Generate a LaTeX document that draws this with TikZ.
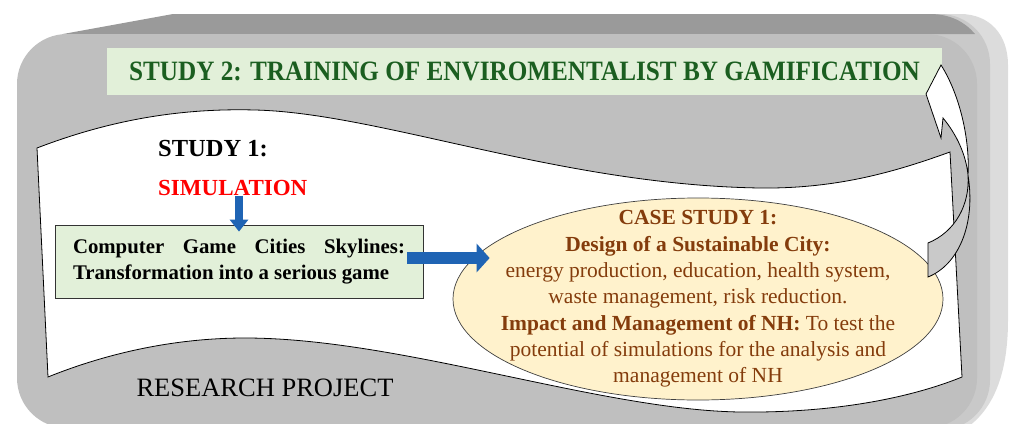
\documentclass[tikz,border=0pt]{standalone}
\usepackage{fontspec}
\setmainfont{Liberation Serif}
\newfontfamily\narrowserif[FakeStretch=0.9]{Liberation Serif}
\usetikzlibrary{arrows.meta,shapes.geometric}

\definecolor{topface}{HTML}{9A9A9A}
\definecolor{frontface}{HTML}{BFBFBF}
\definecolor{midface}{HTML}{C9C9C9}
\definecolor{sideface}{HTML}{DCDCDC}
\definecolor{boxgreen}{HTML}{E2F0D9}
\definecolor{titlegreen}{HTML}{1B5E20}
\definecolor{casefill}{HTML}{FFF2CC}
\definecolor{casetext}{HTML}{843C0C}
\definecolor{arrowblue}{HTML}{1F64B4}

\begin{document}
\begin{tikzpicture}[x=1pt, y=-1pt,
  titlebox/.style={fill=boxgreen, minimum width=835pt, minimum height=47pt, inner sep=0pt, text=titlegreen, font=\narrowserif\bfseries\fontsize{28}{30}\selectfont},
  gamebox/.style={draw=black!80, line width=0.8pt, fill=boxgreen, text width=332pt, inner xsep=18pt, minimum height=73pt, align=justify, font=\bfseries\fontsize{20.8}{26}\selectfont},
  caseshape/.style={ellipse, draw=black!75, line width=0.7pt, fill=casefill, minimum width=490pt, minimum height=202pt, inner sep=0pt},
  caselines/.style={inner sep=0pt, align=center, text=casetext, font=\fontsize{21.5}{26.3}\selectfont},
  heading/.style={inner sep=0pt, anchor=base west, font=\bfseries\fontsize{24.5}{28}\selectfont},
  outline/.style={draw=black, line width=0.8pt}
]
\useasboundingbox (0,0) rectangle (1009,423);
\clip (0,0) rectangle (1009,423);

% bevelled frame of the project
\fill[sideface] (300,14) -- (960,14) .. controls (990,14) and (1008,35) .. (1008,65) -- (1008,320) .. controls (1008,380) and (990,415) .. (960,432) -- (300,432) -- cycle;
\fill[midface, rounded corners=50pt] (300,14) rectangle (990,430);
\fill[topface] (63,34) -- (173,14) -- (930,14) .. controls (950,14) and (965,22) .. (975,34) -- cycle;
\fill[frontface, rounded corners=50pt] (17,34) rectangle (977,428);

% wave banner of study 1
\filldraw[fill=white, outline] (37,148) .. controls (110,120) and (180,108) .. (255,110)
  .. controls (380,113) and (560,185) .. (760,188)
  .. controls (840,189) and (900,170) .. (950,152) -- (962,377)
  .. controls (900,402) and (820,413) .. (740,412)
  .. controls (600,410) and (400,338) .. (245,338)
  .. controls (160,338) and (90,360) .. (48,377) -- cycle;

\node[titlebox] (study2) at (524.5,71.5) {STUDY 2: TRAINING OF ENVIROMENTALIST BY GAMIFICATION};
\node[heading] (study1) at (158,156) {STUDY 1:};
\node[heading, text=red, font=\bfseries\fontsize{23}{26}\selectfont] (sim) at (158,195.5) {SIMULATION};
\node[gamebox] (game) at (239,261.5) {Computer Game Cities Skylines: Transformation into a serious game};
\node[caseshape] (case) at (698,299) {};
\node[caselines] (casetext) at (case.center) {\textbf{CASE STUDY 1:}\\
  \textbf{Design of a Sustainable City:}\\
  energy production, education, health system,\\
  waste management, risk reduction.\\
  \textbf{Impact and Management of NH:} To test the\\
  potential of simulations for the analysis and\\
  management of NH};
\node[font=\fontsize{26.5}{30}\selectfont] (project) at (265,388) {RESEARCH PROJECT};

\draw[arrowblue, line width=8pt, -{Triangle[width=18pt,length=12pt]}] (sim.south -| game.north) -- ([yshift=-7pt]game.north);
\draw[arrowblue, line width=12pt, -{Triangle[width=28pt,length=13pt]}] ([xshift=-16pt,yshift=3.5pt]game.east) -- ([xshift=37pt,yshift=3.5pt]game.east -| case.west);

% curved arrow from the case study up to study 2
\filldraw[fill=midface, outline] (968,175) .. controls (970,205) and (955,232) .. (928,243) -- (928,277)
  .. controls (958,265) and (976,225) .. (968,175) -- cycle;
\filldraw[fill=white, outline] (941,65) -- (926,94) -- (941,138) -- (943,118)
  .. controls (957,135) and (966,155) .. (968,175)
  .. controls (970,140) and (960,95) .. (941,65) -- cycle;
\end{tikzpicture}
\end{document}
